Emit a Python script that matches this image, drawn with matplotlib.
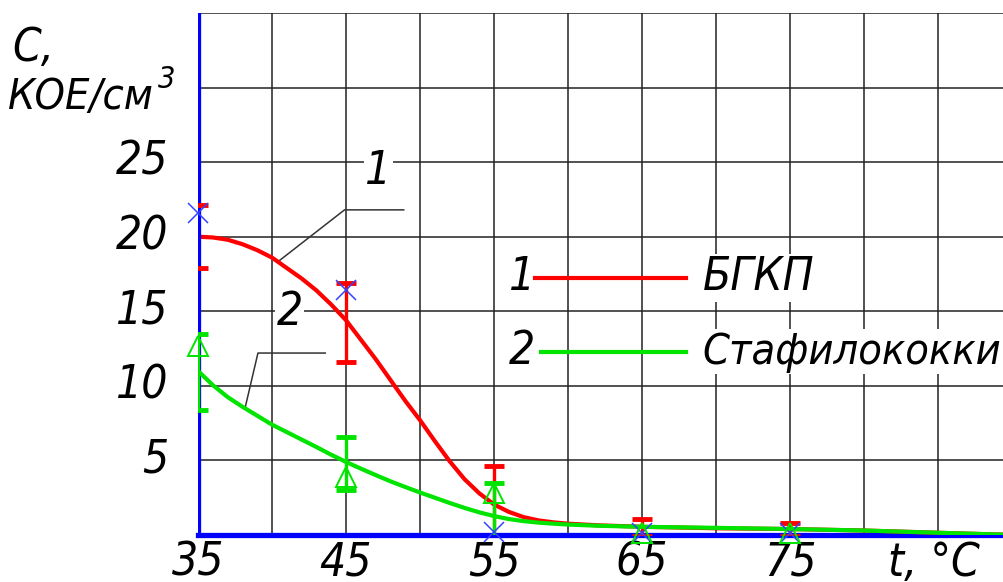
import numpy as np
import matplotlib
matplotlib.use("Agg")
import matplotlib.pyplot as plt

plt.rcParams["font.family"] = ["DejaVu Sans"]
plt.rcParams["font.style"] = "oblique"
plt.rcParams["font.stretch"] = "condensed"

# ===================== данные =====================
# гладкие кривые
curve_t = [35, 36, 37, 38, 39, 40, 41, 42, 43, 44, 45, 46, 47, 48, 49, 50, 51, 52, 53, 54, 55,
           56, 57, 58, 59, 60, 62, 65, 70, 75, 80, 85, 89.5]
bgkp_curve = [20.0, 19.95, 19.8, 19.5, 19.1, 18.6, 17.9, 17.2, 16.4, 15.45, 14.4, 13.1, 11.8, 10.4,
              9.0, 7.7, 6.3, 4.95, 3.75, 2.8, 2.05, 1.55, 1.2, 0.98, 0.85, 0.76, 0.65, 0.55, 0.45,
              0.4, 0.3, 0.15, 0.02]
staph_curve = [11.0, 10.05, 9.25, 8.6, 8.0, 7.4, 6.9, 6.4, 5.9, 5.38, 4.9, 4.45, 4.02, 3.6, 3.22,
               2.85, 2.5, 2.15, 1.82, 1.52, 1.27, 1.07, 0.93, 0.83, 0.76, 0.7, 0.62, 0.55, 0.48,
               0.4, 0.3, 0.15, 0.02]

# точки измерений и погрешности
meas_t = [35, 45, 55, 65, 75]
bgkp_center = [20.0, 14.25, 2.0, 0.5, 0.35]
bgkp_err = [2.1, 2.65, 2.6, 0.55, 0.45]
bgkp_points = [21.6, 16.4, 0.2, 0.15, 0.15]
staph_center = [10.95, 4.8, 1.2, 0.5, 0.4]
staph_err = [2.55, 1.8, 2.3, 0.0, 0.0]
staph_points = [12.7, 3.9, 2.8, 0.15, 0.15]

x_ticks = [35, 45, 55, 65, 75]
y_ticks = [5, 10, 15, 20, 25]

RED = "#ff0000"
GREEN = "#00e400"
BLUE = "#0000ff"
FS = 33

# ===================== рисунок =====================
W, H = 1004, 582
fig = plt.figure(figsize=(W / 100, H / 100), dpi=100)
ax = fig.add_axes([198 / W, 47 / H, 806 / W, 522 / H])
ax.set_xlim(35, 35 + 806 / 14.8)
ax.set_ylim(0, 35)

ax.set_xticks(np.arange(35, 90, 5))
ax.set_yticks(np.arange(0, 36, 5))
ax.tick_params(length=0, labelbottom=False, labelleft=False)
ax.grid(True, color="#222222", linewidth=1.1)
ax.set_axisbelow(True)
for s in ax.spines.values():
    s.set_visible(False)

# синие оси
ax.axvline(35, color=BLUE, linewidth=3.8, zorder=4.5)
ax.axhline(0, color=BLUE, linewidth=3.8, zorder=2, clip_on=False)

# кривые
ax.plot(curve_t, bgkp_curve, color=RED, linewidth=3, zorder=4, solid_joinstyle="round")
ax.plot(curve_t, staph_curve, color=GREEN, linewidth=3, zorder=5, solid_joinstyle="round")

# погрешности
eb1 = ax.errorbar(meas_t, bgkp_center, yerr=bgkp_err, fmt="none", ecolor=RED,
                  elinewidth=2.4, capsize=7, capthick=3.5, zorder=4)
eb2 = ax.errorbar(meas_t[:3], staph_center[:3], yerr=staph_err[:3], fmt="none", ecolor=GREEN,
                  elinewidth=2.4, capsize=7, capthick=3.5, zorder=5)
for eb in (eb1, eb2):
    for cap in eb[1]:
        cap.set_zorder(6)
ax.plot(meas_t, bgkp_points, linestyle="none", marker="x", markersize=14,
        markeredgewidth=1.1, color="#3344ff", zorder=6, clip_on=False)
ax.plot(meas_t, staph_points, linestyle="none", marker="^", markersize=15,
        markerfacecolor="none", markeredgewidth=1.4, color=GREEN, zorder=6, clip_on=False)

# выноски
ax.plot([40.5, 44.9, 48.9], [18.4, 21.8, 21.8], color="#333333", linewidth=1.1, zorder=3)
ax.plot([38.2, 39.05, 43.6], [8.6, 12.2, 12.2], color="#333333", linewidth=1.1, zorder=3)
box = dict(facecolor="white", edgecolor="none", pad=1)
ax.text(47.2, 24.4, "1", fontsize=FS, ha="center", va="center", bbox=box, zorder=3)
ax.text(41.2, 14.9, "2", fontsize=FS, ha="center", va="center", bbox=box, zorder=3)

# легенда
ax.text(56.9, 17.25, "1", fontsize=FS, ha="center", va="center", bbox=box, zorder=3)
ax.plot([57.8, 68.0], [17.25, 17.25], color=RED, linewidth=3, zorder=4)
ax.text(69.1, 17.25, "БГКП", fontsize=FS, ha="left", va="center", bbox=box, zorder=3)
ax.text(56.9, 12.3, "2", fontsize=FS, ha="center", va="center", bbox=box, zorder=3)
ax.plot([58.2, 68.0], [12.3, 12.3], color=GREEN, linewidth=3, zorder=4)
ax.text(69.1, 12.3, "Стафилококки", fontsize=FS - 2, ha="left", va="center", bbox=box, zorder=3)

# подписи делений
for t in x_ticks:
    ax.text(t, -1.9, str(t), fontsize=FS, ha="center", va="center", clip_on=False)
for v in y_ticks:
    ax.text(33.0, v, str(v), fontsize=FS, ha="right", va="center", clip_on=False)

ax.text(81.6, -1.9, "t, °C", fontsize=FS, ha="left", va="center", clip_on=False)
fig.text(12 / W, 1 - 48 / H, "С,", fontsize=FS, ha="left", va="center")
fig.text(8 / W, 1 - 97 / H, "КОЕ/см", fontsize=FS - 2, ha="left", va="center")
fig.text(158 / W, 1 - 80 / H, "3", fontsize=22, ha="left", va="center")

fig.savefig("out.png", dpi=100)
